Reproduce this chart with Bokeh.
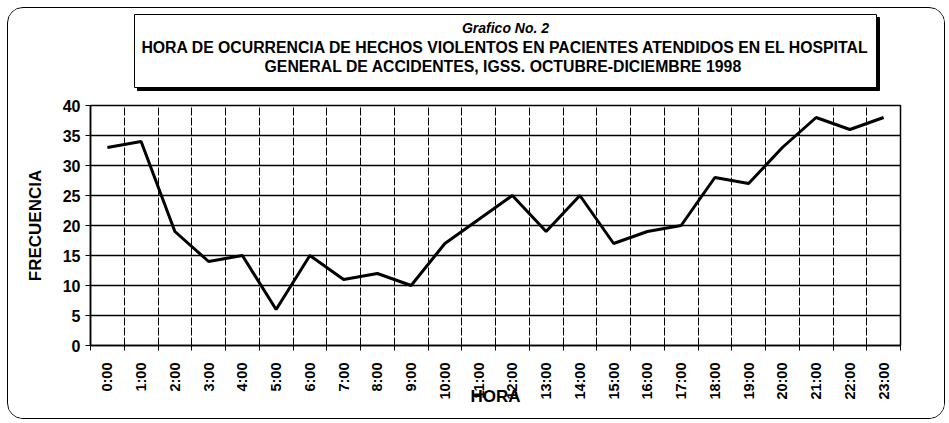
import math
from bokeh.plotting import figure
from bokeh.layouts import column
from bokeh.models import FixedTicker, Range1d
from bokeh.core.properties import value
from bokeh.embed import file_html
from bokeh.resources import INLINE

# ---- data ----
horas = ["0:00", "1:00", "2:00", "3:00", "4:00", "5:00", "6:00", "7:00",
         "8:00", "9:00", "10:00", "11:00", "12:00", "13:00", "14:00", "15:00",
         "16:00", "17:00", "18:00", "19:00", "20:00", "21:00", "22:00", "23:00"]
frecuencia = [33, 34, 19, 14, 15, 6, 15, 11, 12, 10, 17, 21,
              25, 19, 25, 17, 19, 20, 28, 27, 33, 38, 36, 38]
y_ticks = [0, 5, 10, 15, 20, 25, 30, 35, 40]

titulo_1 = "Grafico No. 2"
titulo_2 = "HORA DE OCURRENCIA DE HECHOS VIOLENTOS EN PACIENTES ATENDIDOS EN EL HOSPITAL"
titulo_3 = "GENERAL DE ACCIDENTES, IGSS.  OCTUBRE-DICIEMBRE 1998"

centros = [i + 0.5 for i in range(len(horas))]
limites = list(range(len(horas) + 1))

FONT = "Liberation Sans"
W = 936
ML, MR = 82, 44

# ---------- title figure ----------
TH = 89
t = figure(width=W, height=TH, output_backend="svg", toolbar_location=None,
           x_range=Range1d(ML, W - MR), y_range=Range1d(TH, 0),
           x_axis_location=None, y_axis_location=None,
           min_border_left=ML, min_border_right=MR,
           min_border_top=0, min_border_bottom=0)
t.grid.visible = False
t.outline_line_color = None
t.background_fill_color = "white"
t.border_fill_color = "white"

bx0, bx1, by0, by1 = 126, 868, 6, 79
t.quad(left=[bx0 + 3], right=[bx1 + 3], top=[by0 + 3], bottom=[by1 + 3],
       fill_color="black", line_color="black")
t.quad(left=[bx0], right=[bx1], top=[by0], bottom=[by1],
       fill_color="white", line_color="black", line_width=1)
cx = (bx0 + bx1) / 2
t.text(x=[cx], y=[19], text=[titulo_1], text_align="center", text_baseline="middle",
       text_font=value(FONT), text_font_style="bold italic", text_font_size="14px",
       text_color="black")
t.text(x=[cx, cx], y=[38.5, 57.5], text=[titulo_2, titulo_3], text_align="center",
       text_baseline="middle", text_font=value(FONT), text_font_style="bold",
       text_font_size="15.8px", text_color="black")

# ---------- chart figure ----------
MT, MB = 8, 73
PH = MT + 240 + MB

p = figure(width=W, height=PH, output_backend="svg", toolbar_location=None,
           x_range=Range1d(0, len(horas)), y_range=Range1d(0, 40),
           min_border_left=ML, min_border_right=MR, min_border_top=MT,
           min_border_bottom=MB)

p.background_fill_color = "white"
p.border_fill_color = "white"
p.outline_line_color = "black"
p.outline_line_width = 1.5

p.ygrid.ticker = FixedTicker(ticks=y_ticks)
p.ygrid.grid_line_color = "black"
p.ygrid.grid_line_width = 1.3
p.xgrid.ticker = FixedTicker(ticks=limites)
p.xgrid.grid_line_color = "black"
p.xgrid.grid_line_width = 1
p.xgrid.grid_line_dash = "8 2"

p.xaxis.ticker = FixedTicker(ticks=centros, minor_ticks=limites)
p.xaxis.major_label_overrides = {c: h for c, h in zip(centros, horas)}
p.xaxis.major_label_orientation = math.pi / 2
p.xaxis.major_tick_out = 0
p.xaxis.major_tick_in = 0
p.xaxis.minor_tick_out = 5
p.xaxis.minor_tick_in = 0
p.xaxis.minor_tick_line_color = "black"
p.xaxis.major_label_standoff = 12
p.xaxis.major_label_text_font = FONT
p.xaxis.major_label_text_font_style = "bold"
p.xaxis.major_label_text_font_size = "14.5px"
p.xaxis.major_label_text_color = "black"
p.xaxis.axis_label = "HORA"
p.xaxis.axis_label_text_font = FONT
p.xaxis.axis_label_text_font_style = "bold"
p.xaxis.axis_label_text_font_size = "17px"
p.xaxis.axis_label_text_color = "black"
p.xaxis.axis_label_standoff = -16
p.xaxis.axis_line_color = "black"
p.xaxis.axis_line_width = 1.5

p.yaxis.ticker = FixedTicker(ticks=y_ticks)
p.yaxis.major_tick_out = 5
p.yaxis.major_tick_in = 0
p.yaxis.minor_tick_out = 0
p.yaxis.minor_tick_in = 0
p.yaxis.major_tick_line_color = "black"
p.yaxis.major_label_standoff = 5
p.yaxis.major_label_text_font = FONT
p.yaxis.major_label_text_font_style = "bold"
p.yaxis.major_label_text_font_size = "16px"
p.yaxis.major_label_text_color = "black"
p.yaxis.axis_label = "FRECUENCIA"
p.yaxis.axis_label_text_font = FONT
p.yaxis.axis_label_text_font_style = "bold"
p.yaxis.axis_label_text_font_size = "17px"
p.yaxis.axis_label_text_color = "black"
p.yaxis.axis_label_standoff = 15
p.yaxis.axis_line_color = "black"
p.yaxis.axis_line_width = 1.5

p.line(x=centros, y=frecuencia, line_color="black", line_width=3)

layout = column(t, p, spacing=0,
                styles={"border": "1.5px solid black", "border-radius": "16px",
                        "overflow": "hidden", "background-color": "white",
                        "margin-left": "7px", "margin-top": "7px"})

open("out.html", "w").write(file_html(layout, INLINE))
